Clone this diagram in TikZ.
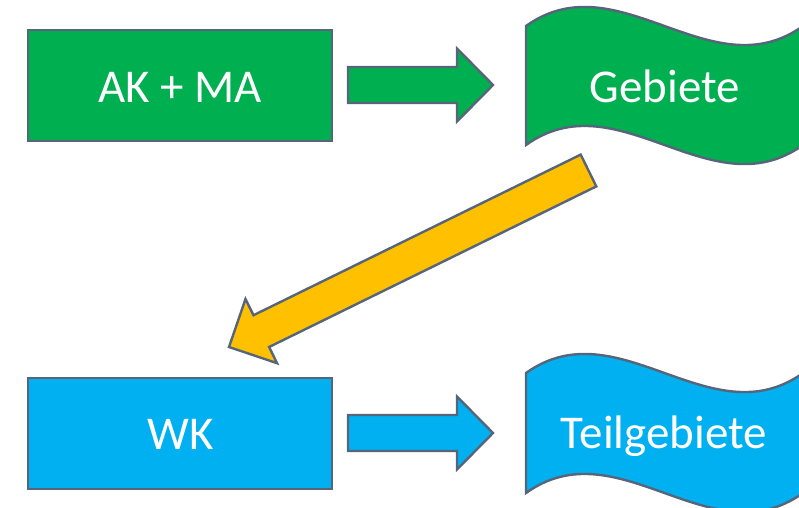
\documentclass[tikz,border=0pt]{standalone}
\usepackage{fontspec}
\setmainfont{Carlito}
\definecolor{pgreen}{HTML}{00B050}
\definecolor{pblue}{HTML}{00B0F0}
\definecolor{pyellow}{HTML}{FFC000}
\definecolor{edgegray}{HTML}{57657A}
\begin{document}
\begin{tikzpicture}[x=1pt,y=-1pt,
  shapeline/.style={draw=edgegray, line width=2.4pt, line join=miter},
  boxnode/.style={shapeline, rectangle, minimum width=304pt, minimum height=111pt, inner sep=0pt},
  lbl/.style={text=white, font=\fontsize{47}{56}\selectfont, anchor=base, inner sep=0pt}]
\useasboundingbox (0,0) rectangle (799,507);
\clip (0,0) rectangle (799,507);
% boxes
\node[boxnode, fill=pgreen] (akma) at (180,85.5) {};
\node[boxnode, fill=pblue] (wk) at (180,433.5) {};
% waves
\path[shapeline, fill=pgreen] (526,26) .. controls (618.3,-40) and (710.7,92) .. (803,26)
  -- (803,145) .. controls (710.7,211) and (618.3,79) .. (526,145) -- cycle;
\path[shapeline, fill=pblue] (526,373) .. controls (618.3,307) and (710.7,439) .. (803,373)
  -- (803,493) .. controls (710.7,559) and (618.3,427) .. (526,493) -- cycle;
% block arrows
\path[shapeline, fill=pgreen] (348,67) -- (457,67) -- (457,48.5) -- (493,85) -- (457,121.5) -- (457,103) -- (348,103) -- cycle;
\path[shapeline, fill=pblue] (348,415) -- (457,415) -- (457,396.5) -- (493,433) -- (457,469.5) -- (457,451) -- (348,451) -- cycle;
\path[shapeline, fill=pyellow] (580.7,154.6) -- (253.5,315.2) -- (245.5,299.0) -- (229,347) -- (277.1,363.2) -- (269.1,347.0) -- (596.3,186.4) -- cycle;
% labels
\node[lbl] (takma) at (180,102) {AK + MA};
\node[lbl] (twk) at (181,449.5) {WK};
\node[lbl] (tgeb) at (665,102) {Gebiete};
\node[lbl] (tteil) at (664,448) {Teilgebiete};
\end{tikzpicture}
\end{document}
